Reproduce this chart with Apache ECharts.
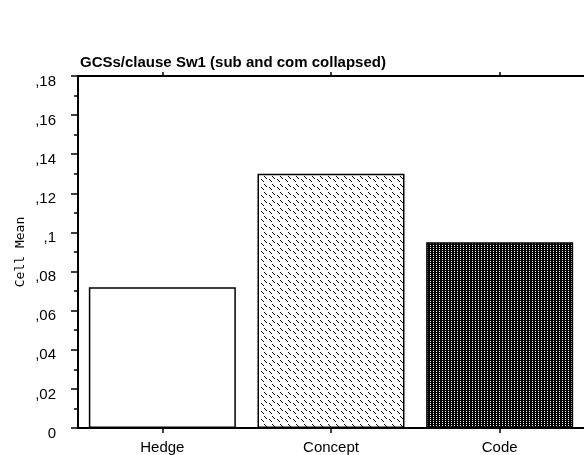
<!DOCTYPE html>
<html>
<head>
<meta charset="utf-8">
<script src="https://cdn.jsdelivr.net/npm/echarts@6/dist/echarts.min.js"></script>
<style>
html,body{margin:0;padding:0;background:#fff;}
#chart{width:584px;height:455px;}
</style>
</head>
<body>
<div id="chart"></div>
<script>
var categories = ['Hedge', 'Concept', 'Code'];
var cellMeans = [0.072, 0.13, 0.095];
var titleText = 'GCSs/clause Sw1 (sub and com collapsed)';
var yName = 'Cell Mean';

function makePattern(w, h, pixels, bg, fg) {
  var c = document.createElement('canvas');
  c.width = w; c.height = h;
  var ctx = c.getContext('2d');
  ctx.fillStyle = bg; ctx.fillRect(0, 0, w, h);
  ctx.fillStyle = fg;
  pixels.forEach(function (p) { ctx.fillRect(p[0], p[1], 1, 1); });
  return c;
}
var conceptTile = makePattern(8, 8, [[0,0],[1,1],[2,2],[5,3],[6,4],[7,5]], '#ffffff', '#000000');
var codeTile = makePattern(3, 2, [[0,0],[1,0],[2,0],[0,1],[2,1]], '#ffffff', '#000000');

var fills = [
  '#ffffff',
  {image: conceptTile, repeat: 'repeat'},
  {image: codeTile, repeat: 'repeat'}
];

function fmt(v) {
  if (v === 0) return '0';
  var s = (+v.toFixed(4)).toString();
  return s.replace(/^0\./, ',');
}

var chart = echarts.init(document.getElementById('chart'), null, {renderer: 'canvas'});
chart.setOption({
  animation: false,
  title: {
    text: titleText,
    left: 75, top: 50,
    textStyle: {fontFamily: 'Liberation Sans', fontSize: 15, fontWeight: 'bold', color: '#000'}
  },
  grid: {left: 78, top: 76, right: -1, bottom: 24, containLabel: false},
  xAxis: [{
    type: 'category',
    data: categories,
    position: 'bottom',
    axisLine: {lineStyle: {color: '#000', width: 2}},
    axisTick: {show: true, alignWithLabel: true, length: 5, lineStyle: {color: '#000', width: 1.5}},
    axisLabel: {color: '#000', fontFamily: 'Liberation Sans', fontSize: 15, margin: 12},
    splitLine: {show: false}
  }, {
    type: 'category',
    data: categories,
    position: 'top',
    axisLine: {lineStyle: {color: '#000', width: 2}},
    axisTick: {show: true, alignWithLabel: true, length: 4, lineStyle: {color: '#000', width: 1.5}},
    axisLabel: {show: false},
    splitLine: {show: false}
  }],
  yAxis: {
    type: 'value',
    min: 0, max: 0.18, interval: 0.02,
    name: yName,
    nameLocation: 'middle',
    nameGap: 51,
    nameMoveOverlap: false,
    nameRotate: 90,
    nameTextStyle: {fontFamily: 'DejaVu Sans Mono', fontSize: 13, color: '#000'},
    axisLine: {show: true, lineStyle: {color: '#000', width: 2}},
    axisTick: {show: true, length: 7, lineStyle: {color: '#000', width: 1.5}},
    minorTick: {show: true, splitNumber: 2, length: 4, lineStyle: {color: '#000', width: 1.5}},
    axisLabel: {color: '#000', fontFamily: 'Liberation Sans', fontSize: 15, margin: 22, verticalAlign: 'top', lineHeight: 15, padding: [-2, 0, 0, 0], formatter: fmt},
    splitLine: {show: false}
  },
  series: [{
    type: 'bar',
    barWidth: 147,
    data: cellMeans.map(function (v, i) {
      return {value: v, itemStyle: {color: fills[i]}};
    }),
    itemStyle: {borderColor: '#000', borderWidth: 1.5}
  }]
});
</script>
</body>
</html>
